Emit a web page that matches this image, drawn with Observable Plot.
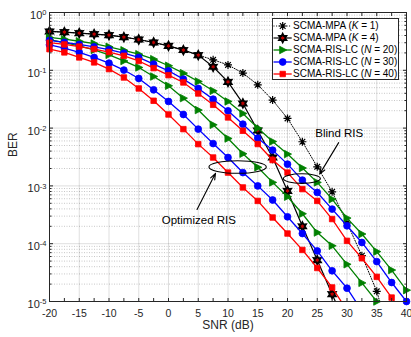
<!DOCTYPE html>
<html><head><meta charset="utf-8">
<script src="https://cdn.jsdelivr.net/npm/d3@7"></script>
<script src="https://cdn.jsdelivr.net/npm/@observablehq/plot@0.6"></script>
<style>
body{margin:0;background:#fff;}
#wrap{position:relative;width:411px;height:337px;font-family:"Liberation Sans",Arial,sans-serif;}
#legend{position:absolute;left:272px;top:18px;width:127px;height:62px;box-sizing:border-box;border:1px solid #262626;background:#fff;font-size:10px;color:#000;}
.row{position:absolute;left:0;height:12px;line-height:12px;white-space:nowrap;}
.row svg{position:absolute;left:0;top:0;overflow:visible;}
.row span{position:absolute;left:20px;top:0;}
</style></head>
<body><div id="wrap"></div>
<script>
// ---------- data ----------
const snr = [-20,-17.5,-15,-12.5,-10,-7.5,-5,-2.5,0,2.5,5,7.5,10,12.5,15,17.5,20,22.5,25,27.5,30,32.5,35,37.5,40];
const berMpaK1 = [0.47,0.458,0.44,0.423,0.406,0.375,0.341,0.303,0.265,0.224,0.183,0.152,0.124,0.0894,0.0561,0.0305,0.0147,0.0058,0.00214,7.9e-4,2.3e-4,6.2e-5,1.5e-5,2e-6,null];
const berMpaK4 = [0.47,0.458,0.44,0.423,0.406,0.375,0.341,0.303,0.265,0.224,0.183,0.115,0.063,0.0267,0.0091,0.0031,8.2e-4,2.0e-4,5.2e-5,1.34e-5,3.5e-6,null,null,null,null];
const berN20Blind = [0.37,0.345,0.318,0.29,0.255,0.222,0.19,0.156,0.12,0.0893,0.0641,0.0442,0.0289,0.0179,0.01,0.00586,0.00355,0.00204,0.00115,5.9e-4,2.77e-4,1.47e-4,7.3e-5,3.5e-5,1.57e-5];
const berN30Blind = [0.33,0.305,0.28,0.255,0.228,0.198,0.167,0.128,0.098,0.0703,0.0485,0.0317,0.0199,0.0117,0.0067,0.00416,0.00238,0.00126,7.7e-4,3.97e-4,2.04e-4,1.05e-4,4.9e-5,2.13e-5,1.0e-5];
const berN40Blind = [0.30,0.28,0.257,0.233,0.207,0.178,0.145,0.109,0.0824,0.0616,0.0397,0.0253,0.0153,0.009,0.0053,0.0028,0.0017,8.8e-4,5.5e-4,2.67e-4,1.12e-4,5.6e-5,2.67e-5,1.17e-5,5e-6];
const berN20Opt = [0.34,0.30,0.265,0.225,0.185,0.145,0.112,0.078,0.054,0.033,0.0205,0.0114,0.0066,0.0036,0.0021,0.00115,6.5e-4,3.3e-4,1.56e-4,9.2e-5,4.4e-5,2.1e-5,1.0e-5,null,null];
const berN30Opt = [0.276,0.242,0.204,0.167,0.133,0.101,0.0722,0.046,0.0289,0.0172,0.0096,0.0054,0.0031,0.0017,0.001,5.7e-4,2.92e-4,1.5e-4,7.5e-5,3.4e-5,1.7e-5,6.9e-6,null,null,null];
const berN40Opt = [0.232,0.204,0.167,0.137,0.105,0.0751,0.0485,0.0297,0.0172,0.0096,0.00528,0.0031,0.0017,9.4e-4,5.5e-4,2.84e-4,1.5e-4,7.8e-5,3.8e-5,1.75e-5,7e-6,null,null,null,null];

const legendPrefix = ["SCMA-MPA (", "SCMA-MPA (", "SCMA-RIS-LC (", "SCMA-RIS-LC (", "SCMA-RIS-LC ("];
const legendVar = ["K", "K", "N", "N", "N"];
const legendVal = ["1", "4", "20", "30", "40"];
const xTicks = [-20,-15,-10,-5,0,5,10,15,20,25,30,35,40];
const xMinorTicks = [-17.5,-12.5,-7.5,-2.5,2.5,7.5,12.5,17.5,22.5,27.5,32.5,37.5];
const yTicks = [1e-5,1e-4,1e-3,1e-2,1e-1,1];
const xLabel = "SNR (dB)";
const yLabel = "BER";
const annotTexts = [{text: "Blind RIS", x: 28.7, y: 8.0e-3}, {text: "Optimized RIS", x: 5.1, y: 2.56e-4}];
const annotArrows = [{x1: 28.6, y1: 5.6e-3, x2: 25.4, y2: 1.6e-3}, {x1: 4.8, y1: 3.9e-4, x2: 7.9, y2: 1.65e-3}];
const annotEllipses = [{x: 22.5, y: 1.31e-3, rx: 18.5, ry: 4.8}, {x: 11.7, y: 2.08e-3, rx: 28.7, ry: 6.3}];

// ---------- styles ----------
const ns = "http://www.w3.org/2000/svg";
const triRight = {draw(c, s){ const r = Math.sqrt(s/Math.PI); c.moveTo(r*1.2,0); c.lineTo(-r*0.9,-r*1.1); c.lineTo(-r*0.9,r*1.1); c.closePath(); }};
const star8 = {draw(c, s){ const r = Math.sqrt(s/Math.PI); for (let k=0;k<4;k++){ const a=k*Math.PI/4; c.moveTo(r*Math.cos(a), r*Math.sin(a)); c.lineTo(-r*Math.cos(a), -r*Math.sin(a)); } }};
const hexagram = {draw(c, s){ const r = Math.sqrt(s/Math.PI); for (let k=0;k<12;k++){ const a=-Math.PI/2 + k*Math.PI/6; const rr = k%2 ? r*0.55 : r; const px=rr*Math.cos(a), py=rr*Math.sin(a); if(k===0) c.moveTo(px,py); else c.lineTo(px,py);} c.closePath(); }};
const styles = [
  {color: "#000", dash: "1,1.6", lw: 1, sym: star8, r: 4, fill: "none", mstroke: "#000", msw: 1.2},
  {color: "#000", dash: null, lw: 1.2, sym: hexagram, r: 4.2, fill: "#c00000", mstroke: "#000", msw: 1.8},
  {color: "#008000", dash: null, lw: 1.3, sym: triRight, r: 3.4, fill: "#008000", mstroke: "#008000", msw: 0.8},
  {color: "#0000ff", dash: null, lw: 1.3, sym: "circle", r: 3.4, fill: "#0000ff", mstroke: "#0000ff", msw: 0.8},
  {color: "#ff0000", dash: null, lw: 1.3, sym: "square", r: 3.1, fill: "#ff0000", mstroke: "#ff0000", msw: 0.8}
];
const curves = [
  {v: berMpaK1, s: 0}, {v: berMpaK4, s: 1},
  {v: berN20Blind, s: 2}, {v: berN20Opt, s: 2},
  {v: berN30Blind, s: 3}, {v: berN30Opt, s: 3},
  {v: berN40Blind, s: 4}, {v: berN40Opt, s: 4}
];

const yMinor = d3.scaleLog().domain([1e-5,1]).ticks().filter(t => !yTicks.some(m => Math.abs(m - t)/m < 1e-6));
const supFmt = d => "10^" + Math.round(Math.log10(d));

const marks = [
  Plot.gridY(yMinor, {stroke: "#000", strokeOpacity: 0.22, strokeDasharray: "1,1.5"}),
  Plot.gridY(yTicks, {stroke: "#000", strokeOpacity: 0.13}),
  Plot.gridX(xTicks, {stroke: "#000", strokeOpacity: 0.13}),
];
for (const cv of curves) {
  const st = styles[cv.s];
  const rows = snr.map((x, i) => ({x, y: cv.v[i]})).filter(d => d.y != null);
  marks.push(Plot.line(rows, {x: "x", y: "y", stroke: st.color, strokeWidth: st.lw, strokeDasharray: st.dash, clip: true}));
  marks.push(Plot.dot(rows.filter(d => d.y >= 0.9e-5), {x: "x", y: "y", symbol: st.sym, r: st.r, fill: st.fill, stroke: st.mstroke, strokeWidth: st.msw}));
}
// ellipses drawn via scales
marks.push((index, scales) => {
  const g = document.createElementNS(ns, "g");
  for (const e of annotEllipses) {
    const el = document.createElementNS(ns, "ellipse");
    el.setAttribute("cx", scales.x(e.x)); el.setAttribute("cy", scales.y(e.y));
    el.setAttribute("rx", e.rx); el.setAttribute("ry", e.ry);
    el.setAttribute("fill", "none"); el.setAttribute("stroke", "#000"); el.setAttribute("stroke-width", 1.1);
    g.appendChild(el);
  }
  return g;
});
marks.push(Plot.arrow(annotArrows, {x1: "x1", y1: "y1", x2: "x2", y2: "y2", stroke: "#000", strokeWidth: 1.1, headLength: 9, headAngle: 40}));
marks.push(Plot.text(annotTexts, {x: "x", y: "y", text: "text", fontSize: 11.5, fill: "#000"}));
// frame and axes
marks.push(
  Plot.frame({stroke: "#262626", strokeWidth: 1}),
  Plot.axisX({anchor: "bottom", ticks: xTicks, tickSize: 0, tickPadding: 8, tickFormat: d => String(d), label: null, fontSize: 10.5, fill: "#262626"}),
  Plot.axisX({anchor: "bottom", ticks: xTicks.concat(xMinorTicks), tickSize: -3, fill: "none", label: null, stroke: "#262626"}),
  Plot.axisX({anchor: "top", ticks: xTicks.concat(xMinorTicks), tickSize: -3, fill: "none", label: null, stroke: "#262626"}),
  Plot.axisY({anchor: "left", ticks: yTicks, tickSize: 0, tickPadding: 3, tickFormat: supFmt, label: null, fontSize: 11, fill: "#262626", dy: 3}),
  Plot.axisY({anchor: "left", ticks: yTicks, tickSize: -4, fill: "none", label: null, stroke: "#262626"}),
  Plot.axisY({anchor: "left", ticks: yMinor, tickSize: -2.5, fill: "none", label: null, stroke: "#262626"}),
  Plot.axisY({anchor: "right", ticks: yTicks, tickSize: -4, fill: "none", label: null, stroke: "#262626"}),
  Plot.axisY({anchor: "right", ticks: yMinor, tickSize: -2.5, fill: "none", label: null, stroke: "#262626"}),
  Plot.text([xLabel], {frameAnchor: "bottom", dy: 27, text: d => d, fontSize: 12, fill: "#262626"}),
  Plot.text([yLabel], {frameAnchor: "left", dx: -36, rotate: -90, text: d => d, fontSize: 12, fill: "#262626"})
);

const chart = Plot.plot({
  width: 411, height: 337,
  marginLeft: 49, marginRight: 5, marginTop: 12, marginBottom: 36,
  x: {domain: [-20, 40]},
  y: {type: "log", domain: [1e-5, 1]},
  style: {fontFamily: "'Liberation Sans', Arial, sans-serif", fontSize: "10.5px", background: "#fff", color: "#262626"},
  marks
});
// superscripts for y tick labels
chart.querySelectorAll('g[aria-label="y-axis tick label"] text').forEach(t => {
  const m = t.textContent.match(/^10\^(.*)$/);
  if (m) {
    t.textContent = "10";
    const ts = document.createElementNS(ns, "tspan");
    ts.setAttribute("dy", "-0.5em"); ts.setAttribute("font-size", "7.5px");
    ts.textContent = m[1];
    t.appendChild(ts);
  }
});
const wrap = document.getElementById("wrap");
wrap.appendChild(chart);

// legend
const legend = document.createElement("div");
legend.id = "legend";
styles.forEach((st, i) => {
  const row = document.createElement("div");
  row.className = "row";
  row.style.top = (0.7 + i * 12.15) + "px";
  row.style.width = "125px";
  const svg = document.createElementNS(ns, "svg");
  svg.setAttribute("width", 20); svg.setAttribute("height", 12);
  const ln = document.createElementNS(ns, "line");
  ln.setAttribute("x1", 0.5); ln.setAttribute("x2", 18.7); ln.setAttribute("y1", 6); ln.setAttribute("y2", 6);
  ln.setAttribute("stroke", st.color); ln.setAttribute("stroke-width", st.lw);
  if (st.dash) ln.setAttribute("stroke-dasharray", st.dash);
  svg.appendChild(ln);
  const sym = typeof st.sym === "string" ? (st.sym === "circle" ? d3.symbolCircle : d3.symbolSquare) : st.sym;
  const p = document.createElementNS(ns, "path");
  p.setAttribute("d", d3.symbol(sym, st.r * st.r * Math.PI)());
  p.setAttribute("transform", "translate(9.7,6)");
  p.setAttribute("fill", st.fill); p.setAttribute("stroke", st.mstroke); p.setAttribute("stroke-width", st.msw);
  svg.appendChild(p);
  row.appendChild(svg);
  const sp = document.createElement("span");
  sp.innerHTML = legendPrefix[i] + "<i>" + legendVar[i] + "</i> = " + legendVal[i] + ")";
  row.appendChild(sp);
  legend.appendChild(row);
});
wrap.appendChild(legend);
</script>
</body></html>
